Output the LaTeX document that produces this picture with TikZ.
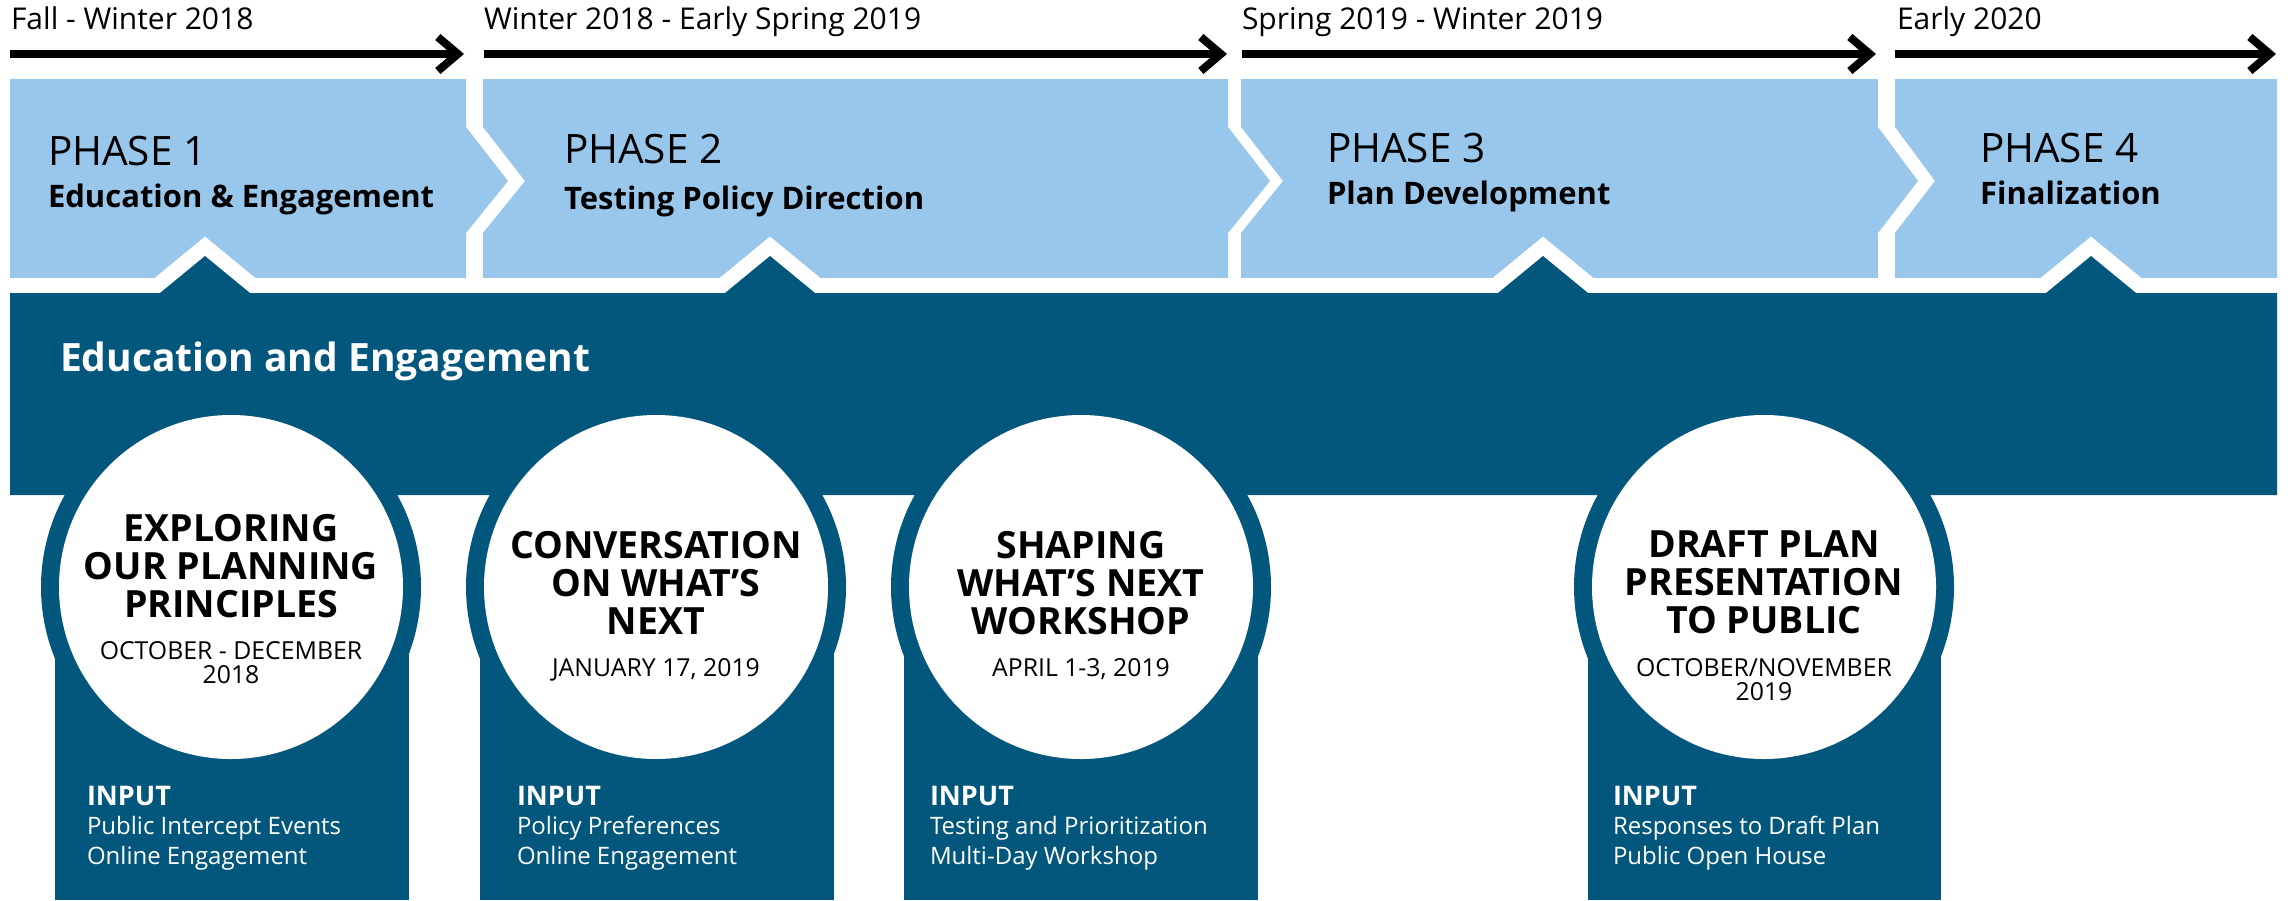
\documentclass[tikz,border=0pt]{standalone}
\usepackage{fontspec}
\setmainfont{Open Sans}
\usetikzlibrary{arrows.meta,positioning}
\definecolor{phaseblue}{HTML}{99C7EC}
\definecolor{engageblue}{HTML}{03577D}

\begin{document}
\begin{tikzpicture}[x=1pt, y=-1pt,
	every node/.style = {inner sep=0pt, outer sep=0pt},
	period/.style = {anchor=base west, font=\fontsize{30}{34}\selectfont},
	timeline/.style = {line width=8pt, -{Straight Barb[length=20pt,width=34pt]}},
	phasebox/.style = {fill=phaseblue},
	phasenum/.style = {anchor=base west, font=\fontsize{40.5}{46}\selectfont},
	phasename/.style = {anchor=base west, font=\bfseries\fontsize{31}{34}\selectfont},
	engageband/.style = {fill=engageblue},
	eventring/.style = {circle, fill=engageblue, minimum size=380pt},
	eventdisc/.style = {circle, fill=white, minimum size=344pt},
	eventtitle/.style = {anchor=north, align=center, font=\bfseries\fontsize{37.5}{38}\selectfont},
	eventdate/.style = {below=24pt of #1, align=center, font=\fontsize{24.8}{24}\selectfont},
	inputhead/.style = {anchor=base west, text=white, font=\bfseries\fontsize{27}{32}\selectfont},
	inputlist/.style = {anchor=north west, align=left, text=white, font=\fontsize{24}{30}\selectfont}]
	\useasboundingbox (0,0) rectangle (2290,900);

	\fill[phasebox] (10,79) -- (466,79) -- (466,127) -- (508,181) -- (466,233) -- (466,278) -- (10,278) -- cycle;
	\fill[phasebox] (483,79) -- (1228,79) -- (1228,127) -- (1270,181) -- (1228,233) -- (1228,278)
		-- (483,278) -- (483,233) -- (525,181) -- (483,127) -- cycle;
	\fill[phasebox] (1241,79) -- (1878,79) -- (1878,127) -- (1918,181) -- (1878,233) -- (1878,278)
		-- (1241,278) -- (1241,233) -- (1283,181) -- (1241,127) -- cycle;
	\fill[phasebox] (1895,79) -- (2277,79) -- (2277,278) -- (1895,278) -- (1895,233) -- (1935,181) -- (1895,127) -- cycle;

	\coordinate (t1s) at (10,54);
	\coordinate (t1e) at (464,54);
	\coordinate (t2s) at (484,54);
	\coordinate (t2e) at (1227,54);
	\coordinate (t3s) at (1242,54);
	\coordinate (t3e) at (1876,54);
	\coordinate (t4s) at (1895,54);
	\coordinate (t4e) at (2276,54);
	\draw[timeline] (t1s) -- (t1e);
	\draw[timeline] (t2s) -- (t2e);
	\draw[timeline] (t3s) -- (t3e);
	\draw[timeline] (t4s) -- (t4e);

	\node[period] (per1) at (11,29) {Fall - Winter 2018};
	\node[period] (per2) at (484,29) {Winter 2018 - Early Spring 2019};
	\node[period] (per3) at (1242,29) {Spring 2019 - Winter 2019};
	\node[period] (per4) at (1897,29) {Early 2020};

	\node[phasenum] (ph1) at (48,165) {PHASE 1};
	\node[phasename] (ph1name) at (48,207) {Education \& Engagement};
	\node[phasenum] (ph2) at (564,163) {PHASE 2};
	\node[phasename] (ph2name) at (564,209) {Testing Policy Direction};
	\node[phasenum] (ph3) at (1327,162) {PHASE 3};
	\node[phasename] (ph3name) at (1327,204) {Plan Development};
	\node[phasenum] (ph4) at (1980,162) {PHASE 4};
	\node[phasename] (ph4name) at (1980,204) {Finalization};

	\draw[white, line width=30pt, line join=miter] (10,293) -- (160,293) -- (205,256) -- (250,293)
		-- (725,293) -- (770,256) -- (815,293) -- (1498,293) -- (1543,256) -- (1588,293)
		-- (2046,293) -- (2091,256) -- (2136,293) -- (2277,293) -- (2277,495) -- (10,495) -- cycle;
	\fill[engageband] (10,293) -- (160,293) -- (205,256) -- (250,293)
		-- (725,293) -- (770,256) -- (815,293) -- (1498,293) -- (1543,256) -- (1588,293)
		-- (2046,293) -- (2091,256) -- (2136,293) -- (2277,293) -- (2277,495) -- (10,495) -- cycle;
	\node[anchor=base west, text=white, font=\bfseries\fontsize{39}{46}\selectfont] (band) at (60,371) {Education and Engagement};

	\fill[engageband] (55,587) rectangle (409,900);
	\fill[engageband] (480,587) rectangle (834,900);
	\fill[engageband] (904,587) rectangle (1258,900);
	\fill[engageband] (1588,587) rectangle (1941,900);
	\node[eventring] (ring1) at (231,587) {};
	\node[eventring] (ring2) at (656,587) {};
	\node[eventring] (ring3) at (1081,587) {};
	\node[eventring] (ring4) at (1764,587) {};
	\node[eventdisc] (disc1) at (231,587) {};
	\node[eventdisc] (disc2) at (656,587) {};
	\node[eventdisc] (disc3) at (1081,587) {};
	\node[eventdisc] (disc4) at (1764,587) {};

	\node[eventtitle] (ev1) at (231,514) {EXPLORING\\OUR PLANNING\\PRINCIPLES};
	\node[eventdate=ev1] (ev1date) {OCTOBER - DECEMBER\\2018};
	\node[eventtitle] (ev2) at (656,531) {CONVERSATION\\ON WHAT’S\\NEXT};
	\node[eventdate=ev2] (ev2date) {JANUARY 17, 2019};
	\node[eventtitle] (ev3) at (1081,531) {SHAPING\\WHAT’S NEXT\\WORKSHOP};
	\node[eventdate=ev3] (ev3date) {APRIL 1-3, 2019};
	\node[eventtitle] (ev4) at (1764,531) {DRAFT PLAN\\PRESENTATION\\TO PUBLIC};
	\node[eventdate=ev4] (ev4date) {OCTOBER/NOVEMBER\\2019};

	\node[inputhead] (in1) at (87,805) {INPUT};
	\node[inputlist] (in1list) at (87,816) {Public Intercept Events\\Online Engagement};
	\node[inputhead] (in2) at (517,805) {INPUT};
	\node[inputlist] (in2list) at (517,816) {Policy Preferences\\Online Engagement};
	\node[inputhead] (in3) at (930,805) {INPUT};
	\node[inputlist] (in3list) at (930,816) {Testing and Prioritization\\Multi-Day Workshop};
	\node[inputhead] (in4) at (1613,805) {INPUT};
	\node[inputlist] (in4list) at (1613,816) {Responses to Draft Plan\\Public Open House};
\end{tikzpicture}
\end{document}
